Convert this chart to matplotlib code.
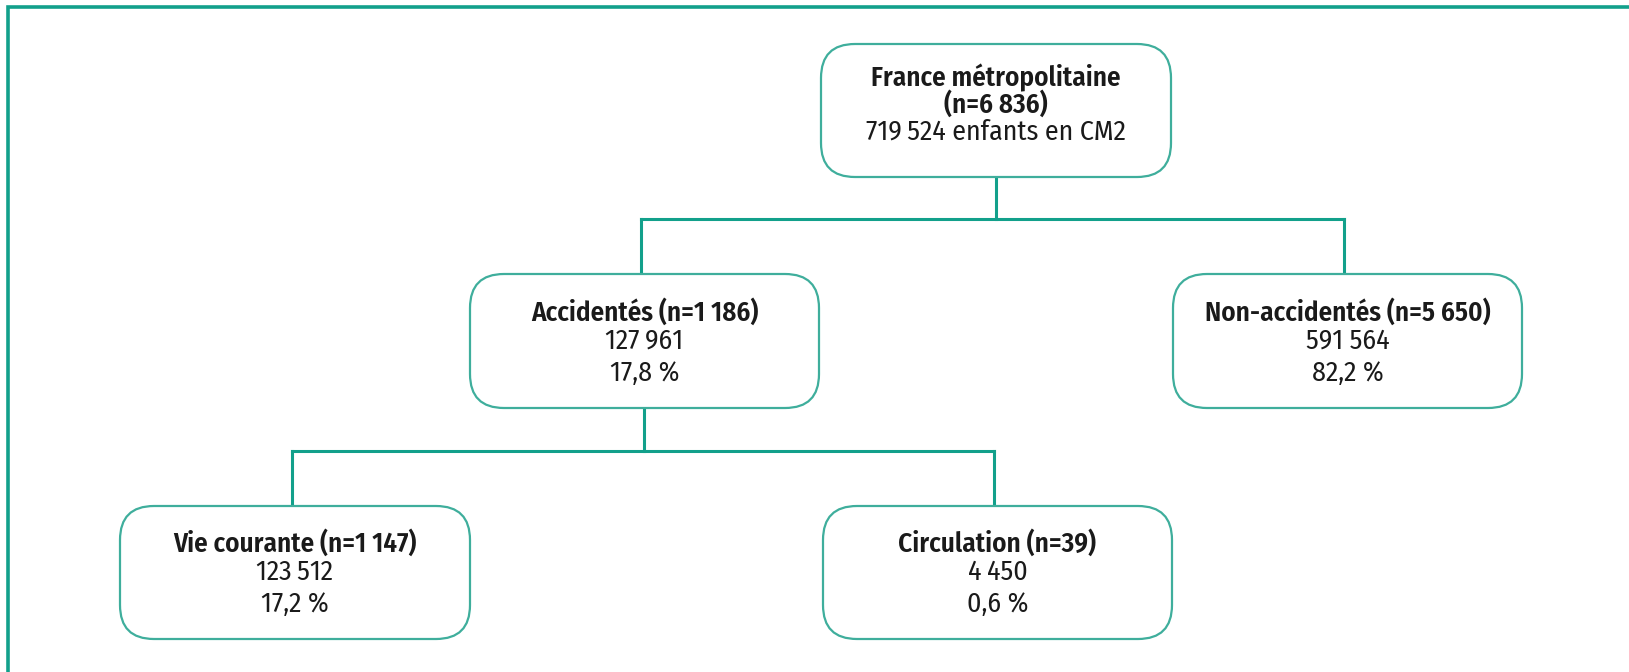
import matplotlib
matplotlib.use("Agg")
import matplotlib.pyplot as plt
from matplotlib.patches import FancyBboxPatch

# data
titles = ["France métropolitaine", "Accidentés (n=1\u00a0186)", "Non-accidentés (n=5\u00a0650)",
          "Vie courante (n=1\u00a0147)", "Circulation (n=39)"]
counts = ["719\u2009524 enfants en CM2", "127\u2009961", "591 564", "123\u2009512", "4\u2009450"]
shares = ["(n=6\u00a0836)", "17,8 %", "82,2 %", "17,2 %", "0,6 %"]
parents = [None, 0, 0, 1, 1]

# layout (pixel coordinates, y pointing down)
boxes = [(821, 44, 350, 133), (470, 274, 349, 134), (1173, 274, 349, 134),
         (120, 506, 350, 133), (823, 506, 349, 133)]
bar_y = {0: 219, 1: 451}

teal = "#12a08b"
edge = "#3fae9c"
fam = ["Fira Sans Condensed", "Barlow Semi Condensed", "DejaVu Sans"]

fig = plt.figure(figsize=(16.29, 6.72), dpi=100)
ax = fig.add_axes([0, 0, 1, 1])
ax.set_xlim(0, 1629)
ax.set_ylim(672, 0)
ax.axis("off")

# frame
ax.plot([8, 8, 1629], [672, 7, 7], color=teal, lw=2.6, solid_joinstyle="miter")

# connectors
for p in bar_y:
    kids = [i for i, q in enumerate(parents) if q == p]
    px = boxes[p][0] + boxes[p][2] / 2
    pb = boxes[p][1] + boxes[p][3]
    y = bar_y[p]
    ax.plot([px, px], [pb, y], color=teal, lw=2.2)
    xs = [boxes[k][0] + boxes[k][2] / 2 - 3 for k in kids]
    ax.plot([min(xs), max(xs)], [y, y], color=teal, lw=2.2)
    for k, x in zip(kids, xs):
        ax.plot([x, x], [y, boxes[k][1]], color=teal, lw=2.2)

# boxes and text
for i, (x, y, w, h) in enumerate(boxes):
    ax.add_patch(FancyBboxPatch((x, y), w, h, boxstyle="round,pad=0,rounding_size=34",
                                fc="white", ec=edge, lw=1.6, zorder=3))
    cx = x + w / 2
    cy = y + h / 2
    if i == 0:
        lines = [(titles[i], 600), (shares[i], 600), (counts[i], "normal")]
        ys = [cy - 33, cy - 6, cy + 21]
    else:
        lines = [(titles[i], 600), (counts[i], "normal"), (shares[i], "normal")]
        ys = [cy - 29, cy, cy + 32]
    for (t, wt), ty in zip(lines, ys):
        ax.text(cx, ty, t, ha="center", va="center", fontsize=19.5 if wt == 600 else 20,
                fontweight=wt, family=fam, color="#1a1a1a", zorder=4)

fig.savefig("out.png", dpi=100, facecolor="white")
